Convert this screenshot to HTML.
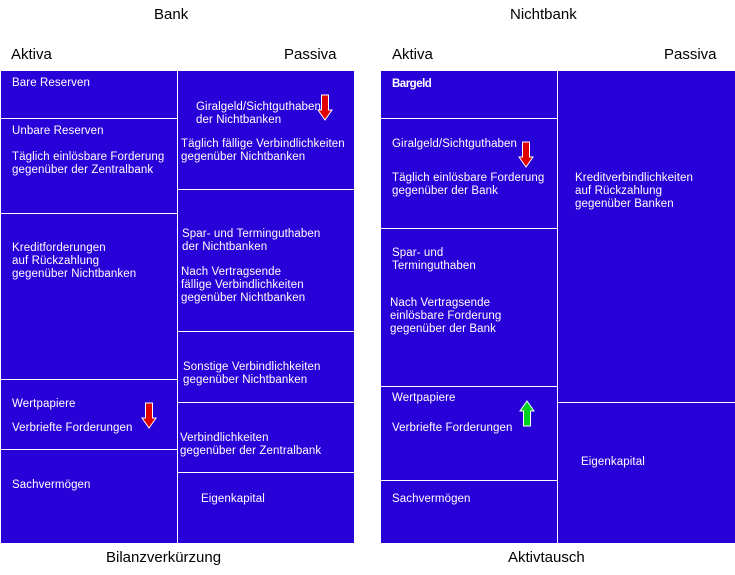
<!DOCTYPE html>
<html><head><meta charset="utf-8"><style>
body{margin:0;width:735px;height:575px;background:#fff;position:relative;font-family:"Liberation Sans",Arial,sans-serif;overflow:hidden}
.b{position:absolute;background:#2800d8}
.t{position:absolute;color:#fff;font-size:11.5px;line-height:13px;white-space:nowrap;letter-spacing:0.1px}
.h{position:absolute;color:#000;font-size:15px;white-space:nowrap}
.l{position:absolute;background:#fff}
</style></head><body>
<div class="h" style="left:154px;top:6px">Bank</div>
<div class="h" style="left:510px;top:6px">Nichtbank</div>
<div class="h" style="left:11px;top:46px">Aktiva</div>
<div class="h" style="left:284px;top:46px">Passiva</div>
<div class="h" style="left:392px;top:46px">Aktiva</div>
<div class="h" style="left:664px;top:46px">Passiva</div>
<div class="h" style="left:106px;top:549px">Bilanzverkürzung</div>
<div class="h" style="left:508px;top:549px">Aktivtausch</div>

<div class="b" style="left:1px;top:71px;width:353px;height:472px"></div>
<div class="l" style="left:177px;top:71px;width:1px;height:472px"></div>
<div class="l" style="left:1px;top:118px;width:176px;height:1px"></div>
<div class="l" style="left:1px;top:213px;width:176px;height:1px"></div>
<div class="l" style="left:1px;top:379px;width:176px;height:1px"></div>
<div class="l" style="left:1px;top:449px;width:176px;height:1px"></div>
<div class="l" style="left:178px;top:189px;width:176px;height:1px"></div>
<div class="l" style="left:178px;top:331px;width:176px;height:1px"></div>
<div class="l" style="left:178px;top:402px;width:176px;height:1px"></div>
<div class="l" style="left:178px;top:472px;width:176px;height:1px"></div>

<div class="b" style="left:381px;top:71px;width:354px;height:472px"></div>
<div class="l" style="left:557px;top:71px;width:1px;height:472px"></div>
<div class="l" style="left:381px;top:118px;width:176px;height:1px"></div>
<div class="l" style="left:381px;top:228px;width:176px;height:1px"></div>
<div class="l" style="left:381px;top:386px;width:176px;height:1px"></div>
<div class="l" style="left:381px;top:480px;width:176px;height:1px"></div>
<div class="l" style="left:558px;top:402px;width:177px;height:1px"></div>

<div class="t" style="left:12px;top:77px">Bare Reserven</div>
<div class="t" style="left:12px;top:125px">Unbare Reserven</div>
<div class="t" style="left:12px;top:151px">Täglich einlösbare Forderung<br>gegenüber der Zentralbank</div>
<div class="t" style="left:12px;top:242px">Kreditforderungen<br>auf Rückzahlung<br>gegenüber Nichtbanken</div>
<div class="t" style="left:12px;top:398px">Wertpapiere</div>
<div class="t" style="left:12px;top:422px">Verbriefte Forderungen</div>
<div class="t" style="left:12px;top:479px">Sachvermögen</div>

<div class="t" style="left:196px;top:101px">Giralgeld/Sichtguthaben<br>der Nichtbanken</div>
<div class="t" style="left:181px;top:138px">Täglich fällige Verbindlichkeiten<br>gegenüber Nichtbanken</div>
<div class="t" style="left:182px;top:228px">Spar- und Terminguthaben<br>der Nichtbanken</div>
<div class="t" style="left:181px;top:266px">Nach Vertragsende<br>fällige Verbindlichkeiten<br>gegenüber Nichtbanken</div>
<div class="t" style="left:183px;top:361px">Sonstige Verbindlichkeiten<br>gegenüber Nichtbanken</div>
<div class="t" style="left:180px;top:432px">Verbindlichkeiten<br>gegenüber der Zentralbank</div>
<div class="t" style="left:201px;top:493px">Eigenkapital</div>

<div class="t" style="left:392px;top:78px;font-weight:bold;letter-spacing:-0.5px">Bargeld</div>
<div class="t" style="left:392px;top:138px">Giralgeld/Sichtguthaben</div>
<div class="t" style="left:392px;top:172px">Täglich einlösbare Forderung<br>gegenüber der Bank</div>
<div class="t" style="left:392px;top:247px">Spar- und<br>Terminguthaben</div>
<div class="t" style="left:390px;top:297px">Nach Vertragsende<br>einlösbare Forderung<br>gegenüber der Bank</div>
<div class="t" style="left:392px;top:392px">Wertpapiere</div>
<div class="t" style="left:392px;top:422px">Verbriefte Forderungen</div>
<div class="t" style="left:392px;top:493px">Sachvermögen</div>
<div class="t" style="left:575px;top:172px">Kreditverbindlichkeiten<br>auf Rückzahlung<br>gegenüber Banken</div>
<div class="t" style="left:581px;top:456px">Eigenkapital</div>

<svg style="position:absolute;left:317px;top:94px" width="16" height="27"><path d="M4.5 1H11.5V16H15L8 26L1 16H4.5Z" fill="#e00000" stroke="#fff" stroke-width="1"/></svg>
<svg style="position:absolute;left:141px;top:402px" width="16" height="27"><path d="M4.5 1H11.5V16H15L8 26L1 16H4.5Z" fill="#e00000" stroke="#fff" stroke-width="1"/></svg>
<svg style="position:absolute;left:518px;top:141px" width="16" height="27"><path d="M4.5 1H11.5V16H15L8 26L1 16H4.5Z" fill="#e00000" stroke="#fff" stroke-width="1"/></svg>
<svg style="position:absolute;left:519px;top:400px" width="16" height="27"><path d="M4.5 26H11.5V11H15L8 1L1 11H4.5Z" fill="#00d020" stroke="#fff" stroke-width="1"/></svg>
</body></html>
